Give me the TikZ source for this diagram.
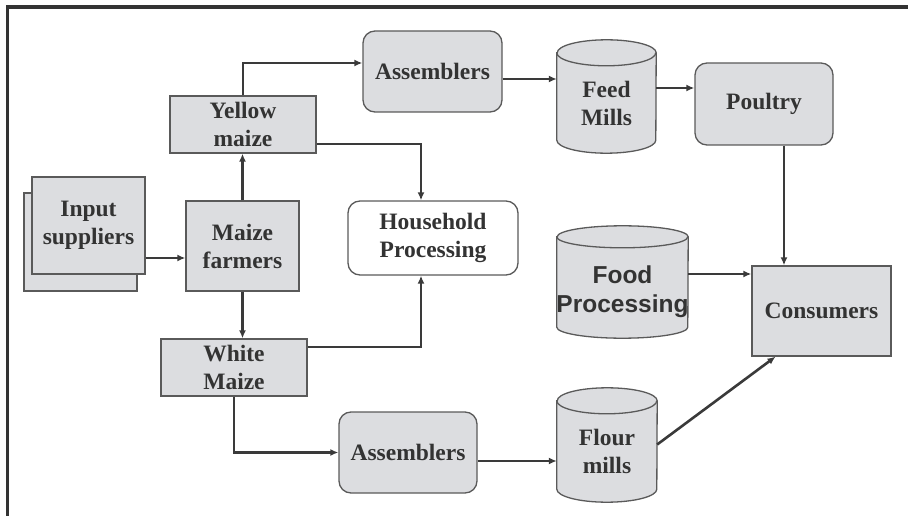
\documentclass[tikz,border=0pt]{standalone}
\usepackage{fontspec}
\setmainfont{Liberation Serif}
\newfontfamily\fpfont{Liberation Sans}
\usetikzlibrary{arrows.meta,calc}
\definecolor{txt}{HTML}{333333}
\definecolor{boxfill}{HTML}{DCDDE0}
\definecolor{boxline}{HTML}{5A5A5A}
\definecolor{lineclr}{HTML}{3A3A3A}
\tikzset{
  base/.style={draw=boxline, line width=1.3pt, fill=boxfill, text=txt, align=center,
    font=\fontsize{23.5}{28}\selectfont\bfseries, inner sep=0pt},
  sqbox/.style={base},
  rdbox/.style={base, rounded corners=12pt},
  hhbox/.style={base, rounded corners=12pt, fill=white},
  cyltext/.style={text=txt, align=center, inner sep=0pt,
    font=\fontsize{23.5}{28}\selectfont\bfseries},
  cylpath/.style={draw=boxline, line width=1.3pt, fill=boxfill},
  arr/.style={draw=lineclr, line width=2.6pt, -{Latex[length=8pt,width=7pt]}},
  frame/.style={draw=txt, line width=3.5pt}
}
\begin{document}
\begin{tikzpicture}[x=1pt,y=-1pt]
\useasboundingbox (0,0) rectangle (908,516);
% frame (top and left only)
\coordinate (fA) at (7.5,520);
\coordinate (fB) at (7.5,7);
\coordinate (fC) at (910,7);
\draw[frame] (fA) -- (fB) -- (fC);

% input suppliers (stacked)
\node[sqbox, minimum width=113pt, minimum height=98pt] (inback) at (80.5,242) {};
\node[sqbox, minimum width=113pt, minimum height=97pt] (in) at (88.5,225.5) {Input\\suppliers};

\node[sqbox, minimum width=113pt, minimum height=90pt] (mf) at (242.5,246) {Maize\\farmers};
\node[sqbox, minimum width=146pt, minimum height=57pt] (ym) at (243,124.5) {Yellow\\maize};
\node[sqbox, minimum width=146pt, minimum height=57pt] (wm) at (234,367.5) {White\\Maize};

\node[rdbox, minimum width=139pt, minimum height=81pt] (as1) at (432.5,71.5) {Assemblers};
\node[rdbox, minimum width=138pt, minimum height=81pt] (as2) at (408,452.5) {Assemblers};
\node[hhbox, minimum width=170pt, minimum height=74pt] (hh) at (433,238) {Household\\Processing};
\node[rdbox, minimum width=138pt, minimum height=82pt] (po) at (764,104) {Poultry};
\node[sqbox, minimum width=139pt, minimum height=90pt] (co) at (821.5,311) {Consumers};

% cylinders: text nodes spanning body below top ellipse
\node[cyltext, minimum width=99pt, minimum height=100pt] (fm) at (606.5,103) {};
\node[cyltext, minimum width=131pt, minimum height=101pt] (fp) at (622.5,287.5) {};
\node[cyltext, minimum width=100pt, minimum height=101pt] (fl) at (607,451.5) {};

\foreach \n/\r/\ry in {fm/49.5/13, fp/65.5/11, fl/50/13}{
  \path[cylpath] (\n.north west) -- ([yshift=\ry pt]\n.south west)
     arc[start angle=180, end angle=360, x radius=\r pt, y radius=\ry pt]
     -- (\n.north east)
     arc[start angle=0, end angle=180, x radius=\r pt, y radius=\ry pt] -- cycle;
  \draw[draw=boxline, line width=1.3pt] (\n.north west)
     arc[start angle=180, end angle=360, x radius=\r pt, y radius=\ry pt];
}
% texts above the cylinder fills
\node[cyltext] (fmt) at (fm.center) {Feed\\Mills};
\node[cyltext, font=\fpfont\fontsize{24.5}{29}\selectfont\bfseries] (fpt) at ([yshift=-4pt]fp.center) {Food\\Processing};
\node[cyltext] (flt) at (fl.center) {Flour\\mills};

% connectors
\draw[arr] ([yshift=-12pt]mf.west -| in.east) -- ([yshift=-12pt]mf.west);
\draw[arr] (mf.north) -- (mf.north |- ym.south);
\draw[arr] (mf.south) -- (mf.south |- wm.north);
\draw[arr] (ym.north) |- ([yshift=8.5pt]as1.west);
\draw[arr] ([yshift=-19.5pt]ym.east) -| ([xshift=-12pt]hh.north);
\draw[arr] ([yshift=20.5pt]wm.east) -| ([xshift=-12pt]hh.south);
\draw[arr] (wm.south) |- (as2.west);
\draw[arr] ([yshift=-7.5pt]as1.east) -- ([yshift=-7.5pt]as1.east -| fm.west);
\draw[arr] ([yshift=16pt]po.west -| fm.east) -- ([yshift=16pt]po.west);
\draw[arr] ([xshift=20pt]po.south) -- ([xshift=20pt]po.south |- co.north);
\draw[arr] ([yshift=13.5pt]fp.east) -- ([yshift=13.5pt]fp.east -| co.west);
\draw[arr] ([yshift=-8.5pt]as2.east) -- ([yshift=-8.5pt]as2.east -| fl.west);
\draw[arr] ([yshift=7pt]fl.east) -- ([xshift=-46pt]co.south);
\end{tikzpicture}
\end{document}
